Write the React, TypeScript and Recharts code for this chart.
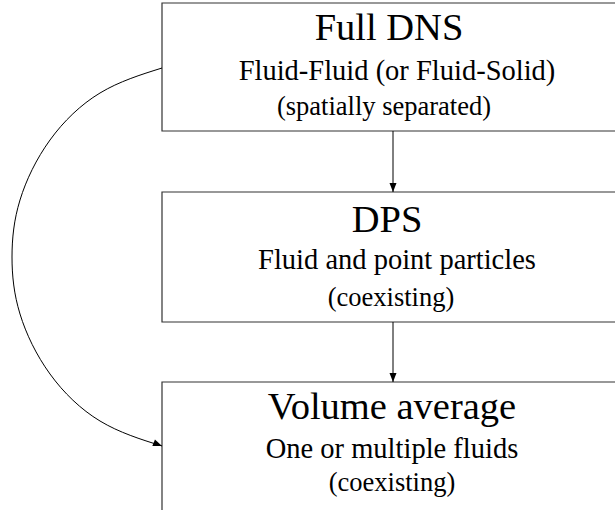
import React from 'react';
import {
    ComposedChart,
    XAxis,
    YAxis,
    Line,
    Scatter,
    ReferenceArea,
} from 'recharts';

// diagram coordinates (x to the right, y downwards)
const boxTitles = ['Full DNS', 'DPS', 'Volume average'];
const boxLines = ['Fluid-Fluid (or Fluid-Solid)', 'Fluid and point particles', 'One or multiple fluids'];
const boxNotes = ['(spatially separated)', '(coexisting)', '(coexisting)'];
const boxTop = [3, 192, 382];
const boxBottom = [131, 322, 514];
const boxLeft = 162;
const boxRight = 624;

const titleX = [389, 387, 392];
const titleY = [40, 232, 419];
const lineX = [397, 397, 392];
const lineY = [80, 269, 458];
const noteX = [384, 391, 392];
const noteY = [115, 306, 491];

const arrowX = 393;
const arrowStart = [131, 322];
const arrowEnd = [192, 382];

const curveX = [162, 100, 50, 20, 12, 20, 50, 100, 162];
const curveY = [68, 93, 140, 200, 257, 314, 374, 421, 446];

const W = 615;
const H = 510;
const FONT = '"Liberation Serif", "DejaVu Serif", serif';

const titles = boxTitles.map((label, i) => ({ x: titleX[i], y: titleY[i], label }));
const lines = boxLines.map((label, i) => ({ x: lineX[i], y: lineY[i], label }));
const notes = boxNotes.map((label, i) => ({ x: noteX[i], y: noteY[i], label }));
const arrows = arrowStart.map((s, i) => [
    { x: arrowX, y: s },
    { x: arrowX, y: arrowEnd[i] },
]);
const curve = curveX.map((x, i) => ({ x, y: curveY[i] }));

const textShape = (size: number) => (props: any) => (
    <text
        x={props.cx}
        y={props.cy}
        textAnchor='middle'
        fontFamily={FONT}
        fontSize={size}
        fill='#000'
    >
        {props.payload.label}
    </text>
);

// arrow head on the last point, pointing along the last segment
const headDot = (pts: { x: number; y: number }[]) => (props: any) => {
    const { cx, cy, index } = props;
    if (index !== pts.length - 1) return <g key={index} />;
    const a = pts[index - 1];
    const b = pts[index];
    const ang = Math.atan2(b.y - a.y, b.x - a.x);
    const len = 9;
    const half = 3.5;
    const bx = cx - len * Math.cos(ang);
    const by = cy - len * Math.sin(ang);
    const px = -Math.sin(ang) * half;
    const py = Math.cos(ang) * half;
    return (
        <polygon
            key={index}
            points={`${cx},${cy} ${bx + px},${by + py} ${bx - px},${by - py}`}
            fill='#000'
            stroke='none'
        />
    );
};

const App: React.FC = () => {
    return (
        <div style={{ position: 'absolute', left: 0, top: 0, background: '#fff' }}>
            <ComposedChart width={W} height={H} margin={{ top: 0, right: 0, bottom: 0, left: 0 }}>
                <XAxis type='number' dataKey='x' domain={[0, W]} allowDataOverflow hide />
                <YAxis type='number' dataKey='y' domain={[0, H]} reversed allowDataOverflow hide />
                {boxTop.map((t, i) => (
                    <ReferenceArea
                        key={'box' + i}
                        x1={boxLeft}
                        x2={boxRight}
                        y1={t}
                        y2={boxBottom[i]}
                        ifOverflow='visible'
                        fill='#fff'
                        fillOpacity={1}
                        stroke='#333'
                        strokeWidth={1.2}
                    />
                ))}
                {arrows.map((a, i) => (
                    <Line
                        key={'arrow' + i}
                        data={a}
                        dataKey='y'
                        type='linear'
                        stroke='#000'
                        strokeWidth={1}
                        dot={headDot(a)}
                        activeDot={false}
                        isAnimationActive={false}
                    />
                ))}
                <Line
                    data={curve}
                    dataKey='y'
                    type='natural'
                    stroke='#000'
                    strokeWidth={1}
                    dot={headDot(curve)}
                    activeDot={false}
                    isAnimationActive={false}
                />
                <Scatter data={titles} shape={textShape(38.5)} isAnimationActive={false} />
                <Scatter data={lines} shape={textShape(28.5)} isAnimationActive={false} />
                <Scatter data={notes} shape={textShape(26.5)} isAnimationActive={false} />
            </ComposedChart>
        </div>
    );
};

export default App;
